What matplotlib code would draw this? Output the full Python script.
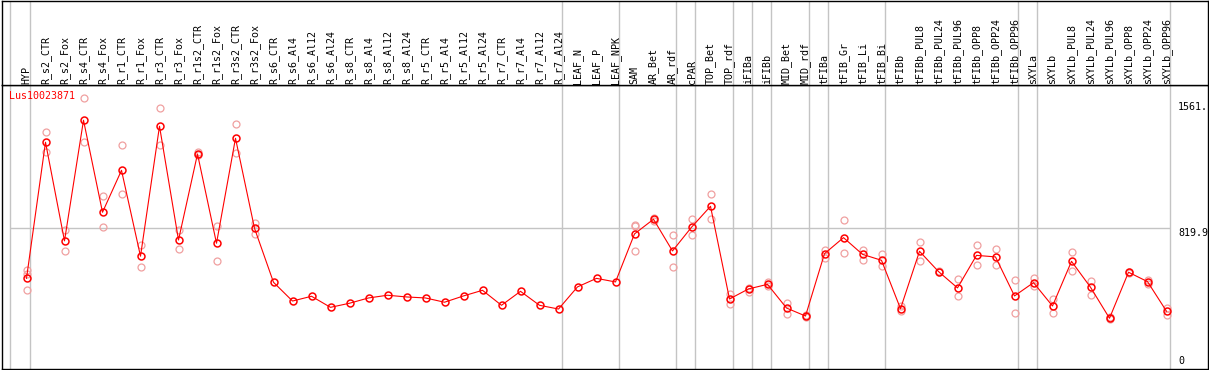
import matplotlib
matplotlib.use("Agg")
import matplotlib.pyplot as plt

# sample names along the top
samples = ["HYP", "R_s2_CTR", "R_s2_Fox", "R_s4_CTR", "R_s4_Fox", "R_r1_CTR", "R_r1_Fox",
           "R_r3_CTR", "R_r3_Fox", "R_r1s2_CTR", "R_r1s2_Fox", "R_r3s2_CTR", "R_r3s2_Fox",
           "R_s6_CTR", "R_s6_Al4", "R_s6_Al12", "R_s6_Al24", "R_s8_CTR", "R_s8_Al4",
           "R_s8_Al12", "R_s8_Al24", "R_r5_CTR", "R_r5_Al4", "R_r5_Al12", "R_r5_Al24",
           "R_r7_CTR", "R_r7_Al4", "R_r7_Al12", "R_r7_Al24", "LEAF_N", "LEAF_P", "LEAF_NPK",
           "SAM", "AR_Bet", "AR_rdf", "cPAR", "TOP_Bet", "TOP_rdf", "iFIBa", "iFIBb",
           "MID_Bet", "MID_rdf", "tFIBa", "tFIB_Gr", "tFIB_Li", "tFIB_Bi", "tFIBb",
           "tFIBb_PUL8", "tFIBb_PUL24", "tFIBb_PUL96", "tFIBb_OPP8", "tFIBb_OPP24",
           "tFIBb_OPP96", "sXYLa", "sXYLb", "sXYLb_PUL8", "sXYLb_PUL24", "sXYLb_PUL96",
           "sXYLb_OPP8", "sXYLb_OPP24", "sXYLb_OPP96"]

# mean expression per sample
means = [526, 1325, 746, 1454, 914, 1160, 656, 1419, 751, 1256, 732, 1348, 820,
         503, 393, 421, 356, 380, 411, 427, 417, 411, 386, 423, 456, 368, 450, 368, 346,
         476, 526, 505, 787, 873, 687, 826, 949, 405, 464, 491, 352, 305, 671, 765, 667,
         632, 348, 685, 566, 470, 661, 652, 423, 501, 364, 626, 474, 292, 562, 507, 333]

# individual replicates (empty where hidden under the mean)
reps = [[573, 550, 456], [1384, 1266], [808, 685], [1583, 1325], [1008, 826],
        [1307, 1020], [722, 595], [1525, 1311], [808, 697], [1270, 1251], [834, 626],
        [1431, 1264], [853, 789],
        [], [], [], [], [], [], [], [], [], [], [], [], [], [], [], [], [], [], [],
        [840, 832, 685], [879, 863], [779, 591], [877, 779], [1020, 873], [432, 376],
        [472, 448], [503, 483], [382, 319], [311, 297], [695, 647], [867, 673],
        [695, 634], [667, 599], [366, 333], [738, 630], [569, 562], [521, 421],
        [720, 603], [697, 603], [515, 325], [530, 483], [407, 323], [679, 571],
        [511, 431], [297, 288], [566, 558], [519, 495], [352, 311]]

# gray separators after these samples
group_ends = [0, 28, 31, 34, 35, 37, 38, 39, 41, 42, 45, 52, 53, 60]

gene = "Lus10023871"
ref_lines = [1561, 819.9]
ref_labels = ["1561.", "819.9"]

W, H = 1209, 370
fig = plt.figure(figsize=(W / 100, H / 100), dpi=100)
mono = "DejaVu Sans Mono"

x0, x1 = 1.5, 1207.5
ax = fig.add_axes([x0 / W, (H - 368.5) / H, (x1 - x0) / W, (368.5 - 85) / H])
axh = fig.add_axes([x0 / W, (H - 85) / H, (x1 - x0) / W, (85 - 0.5) / H])

xlim = ((x0 - 26.5) / 19, (x1 - 26.5) / 19)
for a in (ax, axh):
    a.set_xlim(*xlim)
    a.set_xticks([])
    a.set_yticks([])
    for s in a.spines.values():
        s.set_color("black")
        s.set_linewidth(1.0)
ax.set_ylim((368 - 368.5) / 0.1704, (368 - 85) / 0.1704)
axh.set_ylim(0, 1)

grid_c = "#c4c4c4"
left_edge = -0.85
for a in (ax, axh):
    a.axvline(left_edge, color=grid_c, lw=1, zorder=1)
    for g in group_ends:
        a.axvline(g + 0.21, color=grid_c, lw=1, zorder=1)
ax.hlines(819.9, left_edge, group_ends[-1] + 0.21, color=grid_c, lw=1, zorder=1)

xs = list(range(len(samples)))
for i, r in enumerate(reps):
    ax.plot([i] * len(r), r, "o", ms=5, mfc="none", mec="#f0a0a0", mew=0.9, zorder=2)
ax.plot(xs, means, "-", color="red", lw=0.8, zorder=3)
ax.plot(xs, means, "o", ms=5, mfc="none", mec="red", mew=1.1, zorder=4)

for i, name in enumerate(samples):
    axh.text(i, 0.012, name, rotation=90, ha="center", va="bottom",
             fontsize=7.2, family=mono, color="black")

ax.text(-0.9, 1625, gene, color="red", fontsize=7.2, family=mono, va="top", ha="left")
for v, lab in zip(ref_lines, ref_labels):
    ax.text(60.6, v, lab, fontsize=7.2, family=mono, va="top", ha="left")
ax.text(60.6, 12, "0", fontsize=7.2, family=mono, va="bottom", ha="left")

fig.savefig("out.png", dpi=100)
